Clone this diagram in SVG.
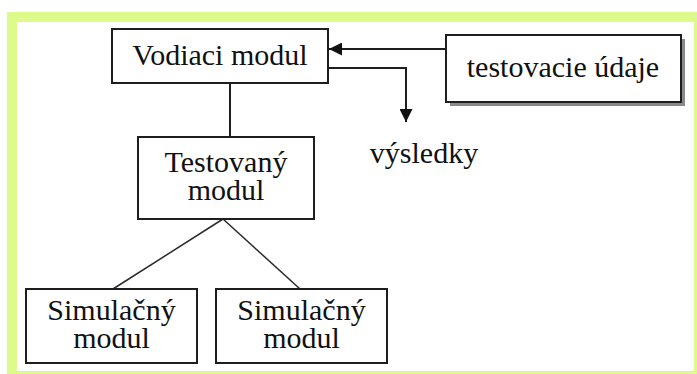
<svg xmlns="http://www.w3.org/2000/svg" width="697" height="374" viewBox="0 0 697 374">
  <defs>
    <style>
      .box { fill: #ffffff; stroke: #1e1e1e; stroke-width: 2; }
      .shadow { fill: #8a8a8a; }
      .lbl { font-family: "Liberation Serif", "Times New Roman", serif; font-size: 30px; fill: #111111; text-anchor: middle; }
      .wire { fill: none; stroke: #1e1e1e; stroke-width: 2; }
      .thin { fill: none; stroke: #2a2a2a; stroke-width: 1.5; }
    </style>
    <marker id="arrow" viewBox="0 0 10 10" refX="10" refY="5" markerWidth="15" markerHeight="13" markerUnits="userSpaceOnUse" orient="auto">
      <path d="M0,0 L10,5 L0,10 Z" fill="#111111"/>
    </marker>
  </defs>

  <!-- page frame -->
  <rect x="0" y="0" width="697" height="374" fill="#ffffff"/>
  <rect x="7" y="12" width="690" height="362" fill="#dcfb8a"/>
  <rect x="17" y="22" width="677" height="349" fill="#ffffff"/>

  <!-- connectors -->
  <g id="connectors">
    <line class="wire" x1="230" y1="83" x2="230" y2="137"/>
    <line class="thin" x1="223" y1="219" x2="113" y2="289"/>
    <line class="thin" x1="223" y1="219" x2="300" y2="289"/>
    <line class="wire" x1="446" y1="49" x2="329" y2="49" marker-end="url(#arrow)"/>
    <polyline class="wire" points="328,68 406,68 406,122" marker-end="url(#arrow)"/>
  </g>

  <g id="vodiaci-modul">
    <rect class="box" x="112" y="29" width="216" height="54"/>
    <text class="lbl" x="220" y="65">Vodiaci modul</text>
  </g>

  <g id="testovacie-udaje">
    <rect class="shadow" x="450" y="39" width="235" height="67"/>
    <rect class="box" x="446" y="35" width="235" height="67"/>
    <text class="lbl" x="563" y="77">testovacie údaje</text>
  </g>

  <g id="vysledky">
    <text class="lbl" x="424" y="163">výsledky</text>
  </g>

  <g id="testovany-modul">
    <rect class="box" x="138" y="137" width="176" height="82"/>
    <text class="lbl" x="226" y="172">Testovaný</text>
    <text class="lbl" x="226" y="200">modul</text>
  </g>

  <g id="simulacny-modul-1">
    <rect class="box" x="26" y="289" width="171" height="74"/>
    <text class="lbl" x="111.5" y="320">Simulačný</text>
    <text class="lbl" x="111.5" y="348">modul</text>
  </g>

  <g id="simulacny-modul-2">
    <rect class="box" x="216" y="289" width="171" height="74"/>
    <text class="lbl" x="301.5" y="320">Simulačný</text>
    <text class="lbl" x="301.5" y="348">modul</text>
  </g>
</svg>
